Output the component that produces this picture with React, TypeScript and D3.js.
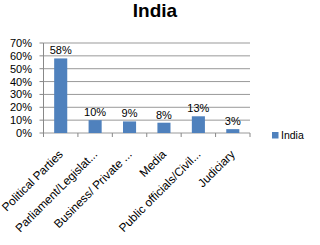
import React from "react";
import * as d3 from "d3";

const categories = ["Political Parties", "Parliament/Legislat...", "Business/ Private ...", "Media", "Public officials/Civil...", "Judiciary"];
const values = [0.58, 0.10, 0.09, 0.08, 0.13, 0.03];
const yTicks = [0, 0.1, 0.2, 0.3, 0.4, 0.5, 0.6, 0.7];
const seriesName = "India";

export default function App() {
  const W = 320, H = 245;
  const left = 43.5, right = 250, top = 43, bottom = 133;
  const x = d3.scaleBand<string>().domain(categories).range([left, right]).paddingInner(0.62).paddingOuter(0.31);
  const y = d3.scaleLinear().domain([0, 0.7]).range([bottom, top]);
  const step = x.step();
  const font = "'Liberation Sans', Arial, sans-serif";
  const fmt = d3.format(".0%");
  return (
    <svg width={W} height={H} style={{ position: "absolute", left: 0, top: 0, background: "#fff" }} fontFamily={font}>
      <text x={155} y={17} textAnchor="middle" fontSize={19} fontWeight="bold" fill="#000">India</text>
      {yTicks.map((t) => (
        <g key={t}>
          <line x1={left} x2={right} y1={y(t)} y2={y(t)} stroke="#999" strokeWidth={1} />
          <line x1={left - 4} x2={left} y1={y(t)} y2={y(t)} stroke="#888" />
          <text x={32} y={y(t) + 4} textAnchor="end" fontSize={11} fill="#000">{fmt(t)}</text>
        </g>
      ))}
      <line x1={left} x2={left} y1={top} y2={bottom} stroke="#888" />
      {d3.range(categories.length + 1).map((i) => (
        <line key={i} x1={left + i * step} x2={left + i * step} y1={bottom} y2={bottom + 4} stroke="#888" />
      ))}
      {categories.map((c, i) => (
        <g key={c}>
          <rect x={x(c)} y={y(values[i])} width={x.bandwidth()} height={bottom - y(values[i])} fill="#4F81BD" />
          <text x={(x(c) as number) + x.bandwidth() / 2} y={y(values[i]) - 4} textAnchor="middle" fontSize={11} fill="#000">{fmt(values[i])}</text>
          <text transform={`translate(${(x(c) as number) + x.bandwidth() / 2 + 3},${bottom + 22}) rotate(-45)`} textAnchor="end" fontSize={11.8} fill="#000">{c}</text>
        </g>
      ))}
      <rect x={272} y={132} width={6.5} height={6.5} fill="#4F81BD" />
      <text x={281} y={139} fontSize={10.5} fill="#000">{seriesName}</text>
    </svg>
  );
}
